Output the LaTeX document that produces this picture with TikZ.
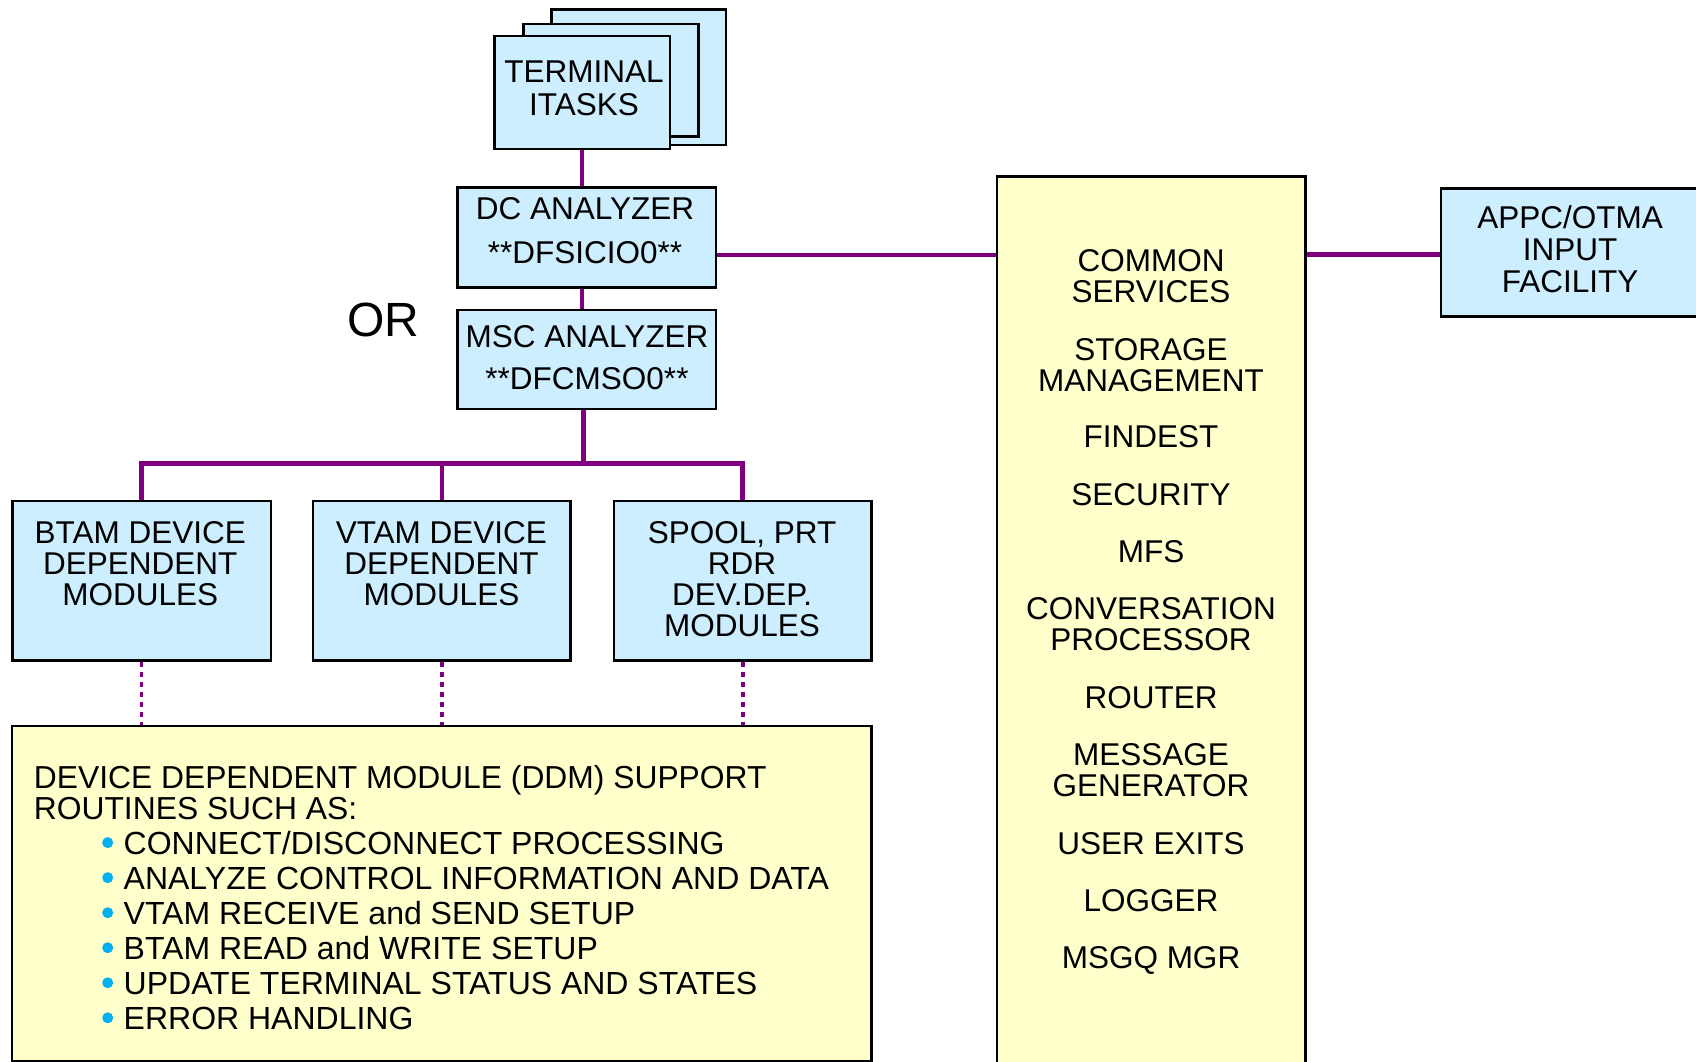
\documentclass[tikz,border=0pt]{standalone}
\usepackage{fontspec}
\setmainfont{Liberation Sans}
\usetikzlibrary{backgrounds}
\definecolor{boxblue}{RGB}{204,238,255}
\definecolor{boxyellow}{RGB}{255,255,204}
\definecolor{linepurple}{RGB}{128,0,128}
\definecolor{bulletblue}{RGB}{0,176,240}
\begin{document}
\begin{tikzpicture}[x=1pt,y=-1pt,
  bluebox/.style={draw=black, fill=boxblue, line width=2.5pt, inner sep=0pt},
  yellowbox/.style={draw=black, fill=boxyellow, line width=2.5pt, inner sep=0pt},
  txt/.style={inner sep=0pt, align=center, font=\fontsize{31.5}{31}\selectfont},
  conn/.style={draw=linepurple, line width=4.6pt},
  dotconn/.style={draw=linepurple, line width=3.6pt, dash pattern=on 5pt off 5pt}]

\useasboundingbox (0,0) rectangle (1696,1061);
\clip (0,0) rectangle (1696,1061);

% terminal task stack
\node[bluebox, minimum width=174.3pt, minimum height=135.7pt] (term3) at (638.85,77.15) {};
\node[bluebox, minimum width=175pt, minimum height=112.7pt] (term2) at (610.8,80.35) {};
\node[bluebox, minimum width=175.7pt, minimum height=113pt] (term) at (582.15,92.5) {};
\node[txt, font=\fontsize{31.5}{33.5}\selectfont] (termtxt) at (584,88.5) {TERMINAL\\ITASKS};

% analyzers
\node[bluebox, minimum width=258.3pt, minimum height=99.6pt] (dc) at (586.85,237.5) {};
\node[txt, font=\fontsize{31.5}{43.3}\selectfont] (dctxt) at (585,230.7) {DC ANALYZER\\**DFSICIO0**};
\node[bluebox, minimum width=258.3pt, minimum height=99pt] (msc) at (586.85,359.5) {};
\node[txt, font=\fontsize{31.5}{42.7}\selectfont] (msctxt) at (587,357.5) {MSC ANALYZER\\**DFCMSO0**};
\node[inner sep=0pt, font=\fontsize{48}{48}\selectfont] (or) at (383,320) {OR};

% device dependent modules
\node[bluebox, minimum width=258.7pt, minimum height=159.7pt] (btam) at (141.65,580.85) {};
\node[txt] (btamtxt) at (140.3,563.5) {BTAM DEVICE\\DEPENDENT\\MODULES};
\node[bluebox, minimum width=257.7pt, minimum height=159.7pt] (vtam) at (441.85,580.85) {};
\node[txt] (vtamtxt) at (441.4,563.5) {VTAM DEVICE\\DEPENDENT\\MODULES};
\node[bluebox, minimum width=257.5pt, minimum height=159.7pt] (spool) at (742.75,580.85) {};
\node[txt] (spooltxt) at (742.1,579.5) {SPOOL, PRT\\RDR\\DEV.DEP.\\MODULES};

% DDM support routines
\node[yellowbox, minimum width=859.5pt, minimum height=335.5pt] (ddm) at (441.75,893.75) {};
\node[inner sep=0pt, align=left, anchor=north west, font=\fontsize{31.8}{31.4}\selectfont] (ddmhead) at (33.7,765)
  {DEVICE DEPENDENT MODULE (DDM) SUPPORT\\ROUTINES SUCH AS:};
\node[inner sep=0pt, align=left, anchor=north west, font=\fontsize{32}{35.04}\selectfont] (ddmlist) at (123.5,831)
  {CONNECT/DISCONNECT PROCESSING\\
   ANALYZE CONTROL INFORMATION AND DATA\\
   VTAM RECEIVE and SEND SETUP\\
   BTAM READ and WRITE SETUP\\
   UPDATE TERMINAL STATUS AND STATES\\
   ERROR HANDLING};
\foreach \k in {0,...,5}
  \fill[bulletblue] (107.7,842.6+35.04*\k) circle (5.5pt);

% common services column
\node[yellowbox, minimum width=308.6pt, minimum height=903.3pt] (common) at (1151.3,628.35) {};
\node[txt] (cs1) at (1151,276.5) {COMMON\\SERVICES};
\node[txt] (cs2) at (1151,365) {STORAGE\\MANAGEMENT};
\node[txt] (cs3) at (1151,437) {FINDEST};
\node[txt] (cs4) at (1151,494.3) {SECURITY};
\node[txt] (cs5) at (1151,551.6) {MFS};
\node[txt] (cs6) at (1151,624) {CONVERSATION\\PROCESSOR};
\node[txt] (cs7) at (1151,697.6) {ROUTER};
\node[txt] (cs8) at (1151,770) {MESSAGE\\GENERATOR};
\node[txt] (cs9) at (1151,843.6) {USER EXITS};
\node[txt] (cs10) at (1151,901) {LOGGER};
\node[txt] (cs11) at (1151,960.5) {MSGQ MGR};

% APPC/OTMA input facility
\node[bluebox, minimum width=264pt, minimum height=128.4pt] (appc) at (1573,252.5) {};
\node[txt, font=\fontsize{31.5}{31.9}\selectfont] (appctxt) at (1570,249.3) {APPC/OTMA\\INPUT\\FACILITY};

% connectors
\coordinate (bus) at (583.5,463.3);
\begin{pgfonlayer}{background}
  \draw[conn] (term.south) -- (term.south |- dc.north);
  \draw[conn] (dc.south -| term.south) -- (msc.north -| term.south);
  \draw[conn] (msc.south -| bus) -- (bus);
  \draw[conn] (btam.north) -- (btam.north |- bus) -- (spool.north |- bus) -- (spool.north);
  \draw[conn] (vtam.north) -- (vtam.north |- bus);
  \draw[conn] ([yshift=-17.5pt]dc.east) -- ([yshift=-17.5pt]dc.east -| common.west);
  \draw[conn] ([yshift=-1.8pt]appc.west) -- ([yshift=-1.8pt]appc.west -| common.east);
  \draw[dotconn] (btam.south) -- (btam.south |- ddm.north);
  \draw[dotconn] (vtam.south) -- (vtam.south |- ddm.north);
  \draw[dotconn] (spool.south) -- (spool.south |- ddm.north);
\end{pgfonlayer}
\end{tikzpicture}
\end{document}
